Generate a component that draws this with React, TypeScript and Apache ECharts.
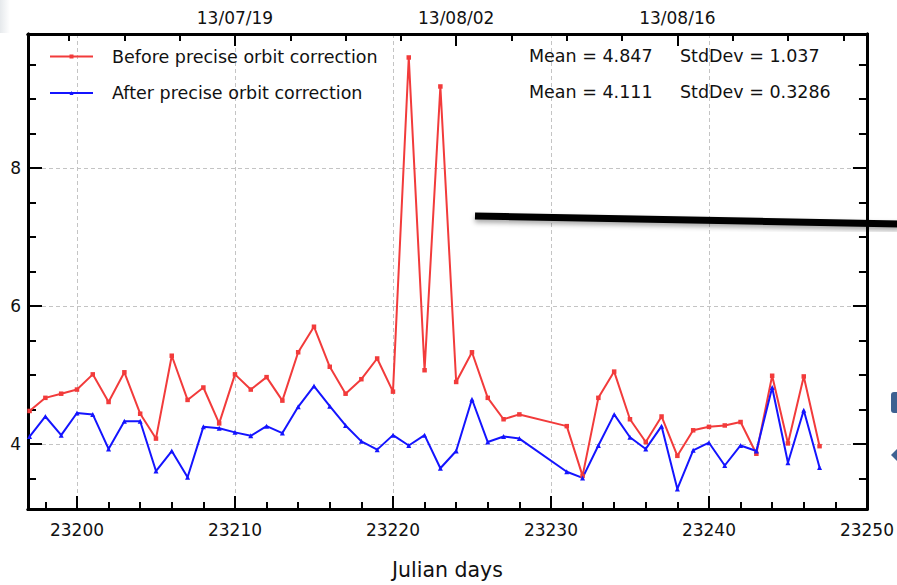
import React, { useEffect, useRef } from "react";
import * as echarts from "echarts";

// Julian days (CNES, days since 1950-01-01) of each daily solution
const julianDays = [
  23197, 23198, 23199, 23200, 23201, 23202, 23203, 23204, 23205, 23206,
  23207, 23208, 23209, 23210, 23211, 23212, 23213, 23214, 23215, 23216,
  23217, 23218, 23219, 23220, 23221, 23222, 23223, 23224, 23225, 23226,
  23227, 23228, 23231, 23232, 23233, 23234, 23235, 23236, 23237, 23238,
  23239, 23240, 23241, 23242, 23243, 23244, 23245, 23246, 23247,
];

const beforeCorrection = [
  4.48, 4.67, 4.73, 4.79, 5.01, 4.61, 5.04, 4.44, 4.08, 5.28,
  4.64, 4.82, 4.3, 5.01, 4.79, 4.97, 4.63, 5.33, 5.7, 5.12,
  4.73, 4.94, 5.24, 4.76, 9.6, 5.07, 9.18, 4.9, 5.33, 4.67,
  4.36, 4.43, 4.26, 3.54, 4.67, 5.05, 4.36, 4.03, 4.4, 3.83,
  4.2, 4.25, 4.27, 4.32, 3.86, 4.99, 4.01, 4.98, 3.97,
];

const afterCorrection = [
  4.11, 4.4, 4.13, 4.45, 4.43, 3.93, 4.33, 4.33, 3.61, 3.9,
  3.52, 4.25, 4.23, 4.17, 4.12, 4.26, 4.16, 4.54, 4.84, 4.55,
  4.27, 4.04, 3.92, 4.13, 3.98, 4.13, 3.65, 3.9, 4.65, 4.03,
  4.11, 4.08, 3.6, 3.51, 3.98, 4.43, 4.1, 3.93, 4.26, 3.35,
  3.91, 4.02, 3.69, 3.98, 3.9, 4.82, 3.73, 4.49, 3.66,
];

const seriesNames = ["Before precise orbit correction", "After precise orbit correction"];
const seriesColors = ["#f23b3b", "#1414ff"];
const meanLabels = ["Mean = 4.847", "Mean = 4.111"];
const stdDevLabels = ["StdDev = 1.037", "StdDev = 0.3286"];

// bottom axis: Julian days
const dayMajorTicks = [23200, 23210, 23220, 23230, 23240, 23250];
const dayMinorTicks = [
  23198, 23202, 23204, 23206, 23208, 23212, 23214, 23216, 23218, 23222,
  23224, 23226, 23228, 23232, 23234, 23236, 23238, 23242, 23244, 23246, 23248,
];
// top axis: calendar dates (yy/mm/dd)
const dateTickDays = [23210, 23224, 23238];
const dateTickLabels = ["13/07/19", "13/08/02", "13/08/16"];
const dateMinorTicks = [
  23199.5, 23203, 23206.5, 23213.5, 23217, 23220.5, 23227.5, 23231, 23234.5,
  23241.5, 23245, 23248.5,
];
// value axis
const valueMajorTicks = [4, 6, 8];
const valueMinorTicks = [3.5, 4.5, 5, 5.5, 6.5, 7, 7.5, 8.5, 9, 9.5];

const X_MIN = 23196.9;
const X_MAX = 23250;
const Y_MIN = 3.06;
const Y_MAX = 9.94;

const FONT = "DejaVu Sans";
const INK = "#111";
const MAJOR_LEN = 13;
const MINOR_LEN = 7;

const frameLine = { show: true, onZero: false, lineStyle: { color: "#000", width: 3 } };
const gridDash = { show: true, lineStyle: { color: "#c4c4c4", width: 1, type: [4, 3] as number[] } };

function xAxisOf(position: string, ticks: number[], length: number, extra: any = {}) {
  return {
    type: "value",
    position,
    min: X_MIN,
    max: X_MAX,
    axisLine: frameLine,
    axisTick: { show: true, inside: true, length, customValues: ticks, lineStyle: { color: "#000", width: 2 } },
    axisLabel: { show: false },
    splitLine: { show: false },
    ...extra,
  };
}

function yAxisOf(position: string, ticks: number[], length: number, extra: any = {}) {
  return {
    type: "value",
    position,
    min: Y_MIN,
    max: Y_MAX,
    axisLine: frameLine,
    axisTick: { show: true, inside: true, length, customValues: ticks, lineStyle: { color: "#000", width: 2 } },
    axisLabel: { show: false },
    splitLine: { show: false },
    ...extra,
  };
}

export default function App() {
  const ref = useRef<HTMLDivElement>(null);

  useEffect(() => {
    if (!ref.current) return;
    const chart = echarts.init(ref.current, undefined, { renderer: "svg" });

    const rows = [56.5, 93];
    const statTexts: any[] = [];
    rows.forEach((y, i) => {
      statTexts.push({
        type: "text", left: 529, top: y - 10, z: 10,
        style: { text: meanLabels[i], font: `17.5px "${FONT}"`, fill: INK },
      });
      statTexts.push({
        type: "text", left: 680, top: y - 10, z: 10,
        style: { text: stdDevLabels[i], font: `17.5px "${FONT}"`, fill: INK },
      });
    });

    chart.setOption({
      animation: false,
      backgroundColor: "#fff",
      textStyle: { fontFamily: FONT },
      grid: { left: 28, right: 27, top: 34, bottom: 74, containLabel: false },
      legend: {
        orient: "vertical",
        left: 49,
        top: 46.5,
        padding: 0,
        itemWidth: 43,
        itemHeight: 5,
        itemGap: 16.5,
        data: seriesNames,
        textStyle: { fontFamily: FONT, fontSize: 17.5, color: INK, lineHeight: 20, padding: [0, 0, 0, 14] },
      },
      xAxis: [
        xAxisOf("bottom", dayMajorTicks, MAJOR_LEN, {
          name: "Julian days",
          nameLocation: "middle",
          nameGap: 50,
          nameTextStyle: { fontFamily: FONT, fontSize: 20.5, color: INK },
          axisLabel: {
            show: true,
            customValues: dayMajorTicks,
            formatter: (v: number) => String(Math.round(v)),
            fontFamily: FONT,
            fontSize: 17,
            color: INK,
            margin: 12,
          },
          splitLine: gridDash,
        }),
        xAxisOf("bottom", dayMinorTicks, MINOR_LEN),
        xAxisOf("top", dateTickDays, MAJOR_LEN - 1, {
          axisLabel: {
            show: true,
            customValues: dateTickDays,
            formatter: (v: number) => {
              const k = dateTickDays.findIndex((d) => Math.abs(d - v) < 1e-6);
              return k >= 0 ? dateTickLabels[k] : "";
            },
            fontFamily: FONT,
            fontSize: 17,
            color: INK,
            margin: 8,
          },
        }),
        xAxisOf("top", dateMinorTicks, MINOR_LEN),
      ],
      yAxis: [
        yAxisOf("left", valueMajorTicks, MAJOR_LEN + 1, {
          axisLabel: {
            show: true,
            customValues: valueMajorTicks,
            formatter: (v: number) => String(Math.round(v)),
            fontFamily: FONT,
            fontSize: 17,
            color: INK,
            margin: 7,
          },
          splitLine: gridDash,
        }),
        yAxisOf("left", valueMinorTicks, MINOR_LEN + 1),
        yAxisOf("right", valueMajorTicks, MAJOR_LEN + 1),
        yAxisOf("right", valueMinorTicks, MINOR_LEN + 1),
      ],
      series: [
        {
          name: seriesNames[0],
          type: "line",
          xAxisIndex: 0,
          yAxisIndex: 0,
          data: julianDays.map((d, i) => [d, beforeCorrection[i]]),
          color: seriesColors[0],
          lineStyle: { width: 2, color: seriesColors[0] },
          itemStyle: { color: seriesColors[0] },
          symbol: "rect",
          symbolSize: 4.5,
          showSymbol: true,
        },
        {
          name: seriesNames[1],
          type: "line",
          xAxisIndex: 0,
          yAxisIndex: 0,
          data: julianDays.map((d, i) => [d, afterCorrection[i]]),
          color: seriesColors[1],
          lineStyle: { width: 2, color: seriesColors[1] },
          itemStyle: { color: seriesColors[1] },
          symbol: "triangle",
          symbolSize: 5,
          showSymbol: true,
        },
      ],
      graphic: [
        ...statTexts,
        {
          // pointer bar laid over the plot
          type: "line",
          z: 20,
          shape: { x1: 475, y1: 216, x2: 900, y2: 224 },
          style: {
            stroke: "#000",
            lineWidth: 7,
            shadowBlur: 5,
            shadowColor: "rgba(0,0,0,0.35)",
            shadowOffsetY: 3,
          },
        },
        {
          type: "rect",
          z: 20,
          shape: { x: 891, y: 392, width: 14, height: 21, r: 3 },
          style: { fill: "#3d6191" },
        },
        {
          type: "polygon",
          z: 20,
          shape: { points: [[891, 455], [899, 447], [907, 455], [899, 463]] },
          style: { fill: "#3d6191" },
        },
        {
          type: "rect",
          z: 0,
          shape: { x: 0, y: 0, width: 10, height: 33 },
          style: {
            fill: new echarts.graphic.LinearGradient(0, 0, 1, 0, [
              { offset: 0, color: "#e6e9ec" },
              { offset: 1, color: "#ffffff" },
            ]),
          },
        },
      ],
    });

    return () => chart.dispose();
  }, []);

  return (
    <div
      ref={ref}
      style={{ position: "fixed", left: 0, top: 0, width: 897, height: 585, background: "#fff" }}
    />
  );
}
